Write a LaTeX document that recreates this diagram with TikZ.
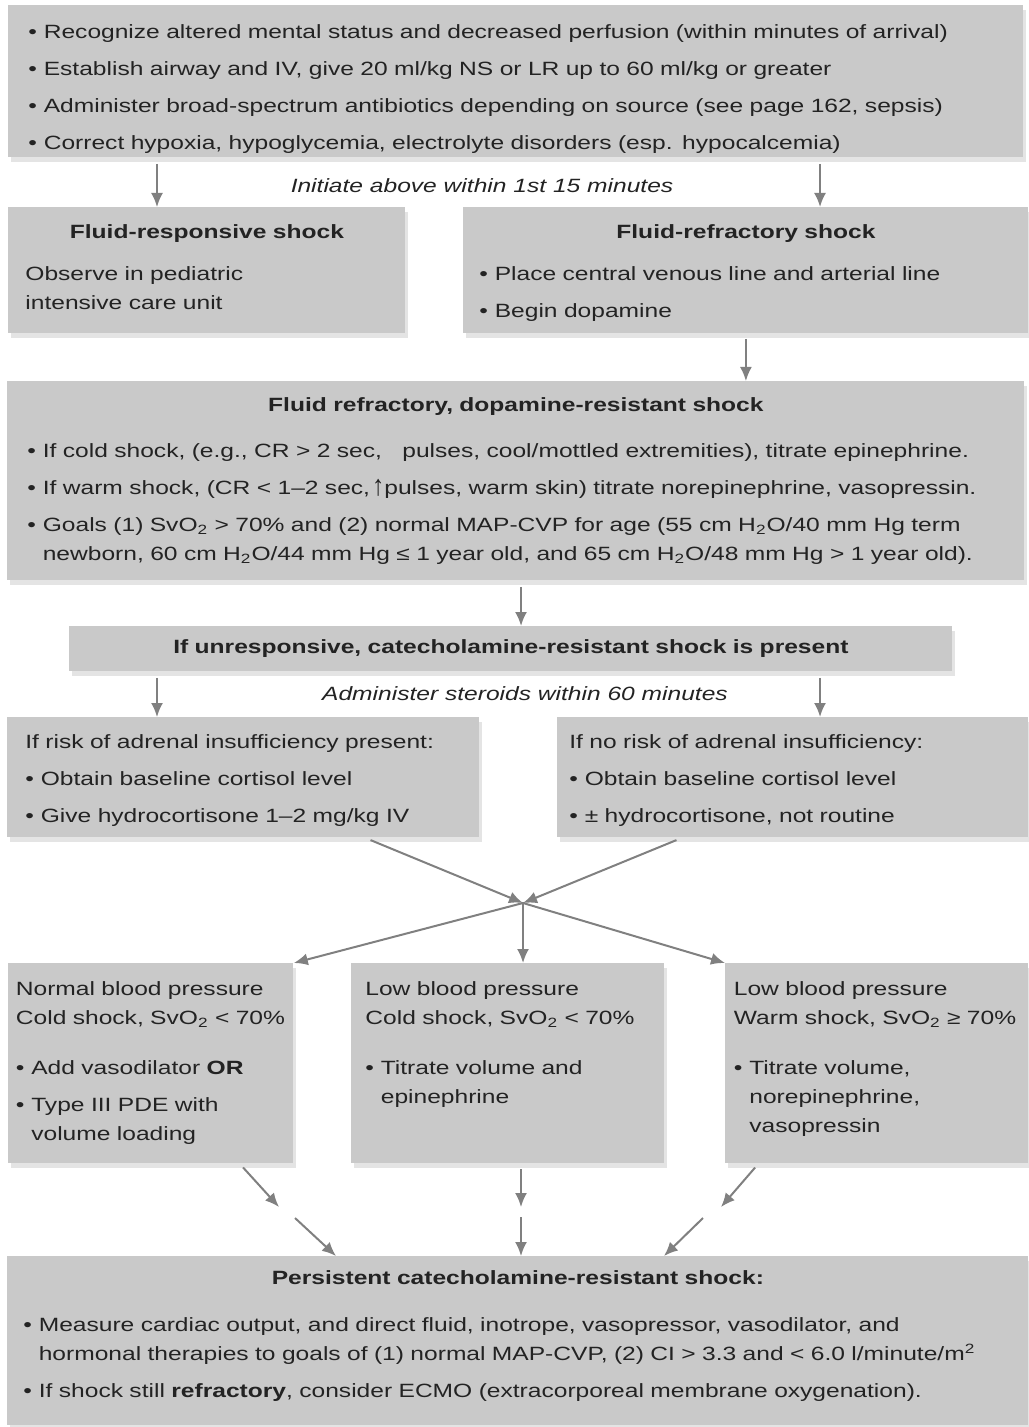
\documentclass[tikz,border=0pt]{standalone}
\usepackage{fontspec}
\usepackage{graphicx}
\setmainfont{Liberation Sans}[FakeStretch=1.28]
\usetikzlibrary{arrows.meta,shadows,calc}

\definecolor{boxgray}{RGB}{201,201,201}
\definecolor{shadegray}{RGB}{228,228,228}
\definecolor{arrowgray}{RGB}{128,128,128}
\definecolor{ink}{RGB}{35,35,35}

\setlength{\parindent}{0pt}
\newlength{\bulw}
% first bullet of a box (no \par) and following bullets
\newcommand{\itmx}{\hangindent=\bulw\hangafter=1\makebox[\bulw][l]{\textbullet}}
\newcommand{\itm}{\par\itmx}
\newcommand{\brk}{\hfil\break}
\newcommand{\txtfont}{\fontsize{9.6pt}{14.5pt}\selectfont\setlength{\parskip}{4pt}}
\newcommand{\uparr}{\raisebox{-0.5pt}{\scalebox{1}[1.5]{↑}}}

\tikzset{
  panel/.style={fill=boxgray, anchor=north west, inner ysep=0pt, align=left,
    font=\txtfont, text=ink,
    drop shadow={shadow xshift=1.5pt, shadow yshift=-2.5pt, fill=shadegray, opacity=1}},
  flow/.style={draw=arrowgray, line width=1pt, -{Latex[length=7pt,width=6pt]}},
  note/.style={font=\txtfont\itshape, text=ink, inner sep=0pt}
}

\begin{document}
\txtfont\settowidth{\bulw}{\textbullet\ }
\begin{tikzpicture}[x=0.5pt,y=-0.5pt]
            \useasboundingbox (0,0) rectangle (1028,1427);
            % boxes
            \node[panel, text width=487.5pt, minimum height=76pt, inner xsep=10pt] (top) at (8,5) {%
              \itmx Recognize altered mental status and decreased perfusion (within minutes of arrival)
              \itm Establish airway and IV, give 20 ml/kg NS or LR up to 60 ml/kg or greater
              \itm Administer broad-spectrum antibiotics depending on source (see page 162, sepsis)
              \itm Correct hypoxia, hypoglycemia, electrolyte disorders (esp. hypocalcemia)\par\vspace{-7.5pt}};
            \node[panel, text width=181.5pt, minimum height=63pt, inner xsep=8.5pt] (resp) at (8,207) {%
              {\centering\bfseries Fluid-responsive shock\par}\vspace{2.5pt}
              Observe in pediatric\brk intensive care unit\par\vspace{3pt}};
            \node[panel, text width=266.5pt, minimum height=63pt, inner xsep=8pt] (refr) at (463,207) {%
              {\centering\bfseries Fluid-refractory shock\par}\vspace{2.5pt}
              \itm Place central venous line and arterial line
              \itm Begin dopamine\par\vspace{-3pt}};
            \node[panel, text width=488.5pt, minimum height=99.5pt, inner xsep=10pt] (dopa) at (7,381) {%
              {\centering\bfseries Fluid refractory, dopamine-resistant shock\par}\vspace{4.5pt}
              \itm If cold shock, (e.g., CR > 2 sec,\hspace{7pt} pulses, cool/mottled extremities), titrate epinephrine.
              \itm If warm shock, (CR < 1--2 sec,\hspace{1pt}\uparr pulses, warm skin) titrate norepinephrine, vasopressin.
              \itm Goals (1) SvO\textsubscript{2} > 70\% and (2) normal MAP-CVP for age (55 cm H\textsubscript{2}O/40 mm Hg term\brk
              newborn, 60 cm H\textsubscript{2}O/44 mm Hg ≤ 1 year old, and 65 cm H\textsubscript{2}O/48 mm Hg > 1 year old).\par};
            \node[panel, text width=441.5pt, minimum height=22.5pt, inner xsep=0pt, align=center] (cate) at (69,626)
              {\bfseries If unresponsive, catecholamine-resistant shock is present};
            \node[panel, text width=218pt, minimum height=60pt, inner xsep=9pt] (adrL) at (7,717) {%
              If risk of adrenal insufficiency present:
              \itm Obtain baseline cortisol level
              \itm Give hydrocortisone 1--2 mg/kg IV\par\vspace{-3pt}};
            \node[panel, text width=223.5pt, minimum height=60pt, inner xsep=6pt] (adrR) at (557,717) {%
              If no risk of adrenal insufficiency:
              \itm Obtain baseline cortisol level
              \itm ± hydrocortisone, not routine\par\vspace{-3pt}};
            \node[panel, text width=135pt, minimum height=100pt, inner xsep=3.75pt] (lowA) at (8,963) {%
              Normal blood pressure\brk\mbox{Cold shock, SvO\textsubscript{2} < 70\%}\par\vspace{6.5pt}
              \itm Add vasodilator \textbf{OR}
              \itm Type III PDE with\brk volume loading\par};
            \node[panel, text width=142.5pt, minimum height=100pt, inner xsep=7pt] (lowB) at (351,963) {%
              Low blood pressure\brk Cold shock, SvO\textsubscript{2} < 70\%\par\vspace{6.5pt}
              \itm Titrate volume and\brk epinephrine\par\vspace{18.5pt}};
            \node[panel, text width=143pt, minimum height=100pt, inner xsep=4.25pt] (lowC) at (725,963) {%
              Low blood pressure\brk\mbox{Warm shock, SvO\textsubscript{2} ≥ 70\%}\par\vspace{6.5pt}
              \itm Titrate volume,\brk norepinephrine,\brk vasopressin\par\vspace{4pt}};
            \node[panel, text width=494.5pt, minimum height=84.5pt, inner xsep=8pt] (bot) at (7,1256) {%
              {\centering\bfseries Persistent catecholamine-resistant shock:\par}\vspace{5pt}
              \itm Measure cardiac output, and direct fluid, inotrope, vasopressor, vasodilator, and\brk
              hormonal therapies to goals of (1) normal MAP-CVP, (2) CI > 3.3 and < 6.0 l/minute/m\textsuperscript{2}
              \itm If shock still \textbf{refractory}, consider ECMO (extracorporeal membrane oxygenation).\par\vspace{5pt}};
            % timing notes
            \node[note] (init) at (482,186) {Initiate above within 1st 15 minutes};
            \node[note] (ster) at (525,694) {Administer steroids within 60 minutes};
            % arrow points
            \coordinate (la) at (157,0);
            \coordinate (ra) at (820,0);
            \coordinate (mid) at (521,0);
            \coordinate (xl) at (365,0);
            \coordinate (xr) at (682,0);
            \coordinate (jn) at (523,903);
            \coordinate (ka) at (239,1163);
            \coordinate (kb) at (279,1207);
            \coordinate (kc) at (295,1218);
            \coordinate (kd) at (336,1256);
            \coordinate (ma) at (521,1163);
            \coordinate (mb) at (521,1207);
            \coordinate (mc) at (521,1217);
            \coordinate (md) at (521,1256);
            \coordinate (ta) at (759,1163);
            \coordinate (tb) at (721,1207);
            \coordinate (tc) at (703,1218);
            \coordinate (td) at (664,1256);
            % arrows
            \draw[flow, shorten <=3pt] (top.south -| la) -- (resp.north -| la);
            \draw[flow, shorten <=3pt] (top.south -| ra) -- (refr.north -| ra);
            \draw[flow, shorten <=2.5pt] (refr.south) -- (refr.south |- dopa.north);
            \draw[flow, shorten <=3pt] (dopa.south -| mid) -- (cate.north -| mid);
            \draw[flow, shorten <=3pt] (cate.south -| la) -- (adrL.north -| la);
            \draw[flow, shorten <=3pt] (cate.south -| ra) -- (adrR.north -| ra);
            \draw[flow, shorten <=3pt] (adrL.south -| xl) -- (jn);
            \draw[flow, shorten <=3pt] (adrR.south -| xr) -- (jn);
            \draw[flow] (jn) -- (lowA.north east);
            \draw[flow] (jn) -- (jn |- lowB.north);
            \draw[flow] (jn) -- (lowC.north west);
            \draw[flow, shorten <=3pt] (ka) -- (kb);
            \draw[flow] (kc) -- (kd);
            \draw[flow, shorten <=3pt] (ma) -- (mb);
            \draw[flow] (mc) -- (md);
            \draw[flow, shorten <=3pt] (ta) -- (tb);
            \draw[flow] (tc) -- (td);
\end{tikzpicture}
\end{document}
